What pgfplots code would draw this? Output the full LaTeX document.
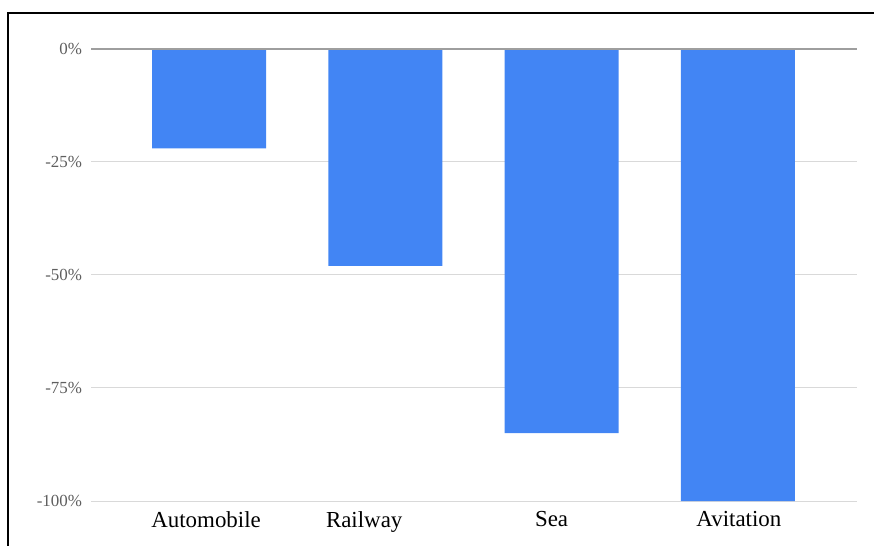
\documentclass[border=0pt]{standalone}
\usepackage{pgfplots}
\pgfplotsset{compat=1.18}
\usepackage{fontspec}
\setmainfont{Liberation Serif}
\definecolor{barblue}{HTML}{4285F4}
\definecolor{zeroline}{HTML}{9E9E9E}
\definecolor{gridgray}{HTML}{D9D9D9}
\definecolor{ticktext}{HTML}{5F5F5F}
\begin{document}
\begin{tikzpicture}
  % page area and frame
  \path[use as bounding box] (0bp,0bp) rectangle (874bp,546bp);
  \draw[line width=2bp,black] (8bp,0bp) -- (8bp,533bp) -- (874bp,533bp);
  \begin{axis}[
    at={(91bp,45bp)}, anchor=south west,
    scale only axis, width=766bp, height=452bp,
    xmin=-0.67, xmax=3.676,
    ymin=-100, ymax=0,
    axis line style={draw=none},
    tick style={draw=none},
    ytick={-100,-75,-50,-25,0},
    yticklabels={-100\%,-75\%,-50\%,-25\%,0\%},
    yticklabel style={font=\fontsize{17}{19}\selectfont, text=ticktext, xshift=-5.5bp},
    % category labels sit slightly off the bar centres
    xtick={-0.017,0.88,1.943,3.006},
    xticklabels={Automobile,Railway,Sea,Avitation},
    xticklabel style={font=\fontsize{23}{26}\selectfont, text=black, yshift=-3bp},
    ymajorgrids, grid style={gridgray, line width=1bp},
    clip=false,
    ybar, bar width=114bp,
  ]
    \addplot[fill=barblue, draw=none] coordinates {(0,-22) (1,-48) (2,-85) (3,-100)};
    \draw[zeroline, line width=2bp] (axis cs:-0.67,0) -- (axis cs:3.676,0);
  \end{axis}
\end{tikzpicture}
\end{document}
